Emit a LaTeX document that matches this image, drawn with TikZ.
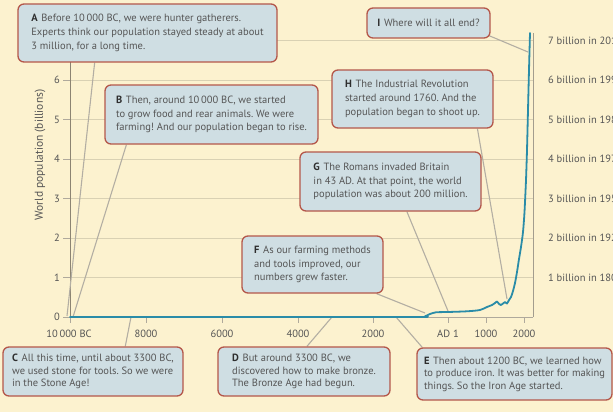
\documentclass[tikz,border=0pt]{standalone}
\usepackage{fontspec}
\setmainfont{PT Sans}
\usetikzlibrary{calc}
\definecolor{bgc}{HTML}{FCF2CF}
\definecolor{boxfill}{HTML}{CFDEE3}
\definecolor{boxline}{HTML}{B4574A}
\definecolor{txt}{HTML}{555555}
\definecolor{lettc}{HTML}{2E2E2E}
\definecolor{gridc}{HTML}{D9D1B3}
\definecolor{axisc}{HTML}{8C8472}
\definecolor{connc}{HTML}{B3AEA3}
\definecolor{curvec}{HTML}{2A8CA8}
\pgfdeclarelayer{bg}
\pgfsetlayers{bg,main}
\frenchspacing
\newcommand{\lett}[1]{\textbf{\color{lettc}#1}\hspace{0.35em}}
\begin{document}
\begin{tikzpicture}[x=1pt,y=-1pt,
  note/.style={draw=boxline, line width=1.3pt, fill=boxfill, rounded corners=6pt,
    align=left, inner xsep=0pt, inner ysep=0pt, text=txt,
    font=\fontsize{10.5}{13.8}\selectfont},
  notetight/.style={note, font=\fontsize{10.5}{12.6}\selectfont},
  conn/.style={draw=connc, line width=1.1pt},
  gridline/.style={draw=gridc, line width=0.8pt},
  tickline/.style={draw=axisc!70, line width=0.7pt},
  lab/.style={text=txt, font=\fontsize{10.5}{12}\selectfont, inner sep=0pt},
  rlab/.style={text=txt, font=\fontsize{10.5}{12}\selectfont, inner sep=0pt, anchor=west}]
\useasboundingbox (0,0) rectangle (613,412);
\clip (0,0) rectangle (613,412);

% boxes
\node[note, minimum width=259pt, minimum height=58pt] (A) at (147.5,33)
 {\lett{A}Before 10\,000 BC, we were hunter gatherers.\\Experts think our population stayed steady at about\\3 million, for a long time.};
\node[note, minimum width=213pt, minimum height=59pt] (B) at (211.5,114.5)
 {\lett{B}Then, around 10\,000 BC, we started\\to grow food and rear animals. We were\\farming! And our population began to rise.};
\node[note, minimum width=123pt, minimum height=30pt] (I) at (428.5,23)
 {\lett{I}Where will it all end?};
\node[note, minimum width=161pt, minimum height=58pt] (H) at (412.5,99)
 {\lett{H}The Industrial Revolution\\started around 1760. And the\\population began to shoot up.};
\node[note, minimum width=181pt, minimum height=59pt] (G) at (390.5,181.5)
 {\lett{G}The Romans invaded Britain\\in 43 AD. At that point, the world\\population was about 200 million.};
\node[note, minimum width=141pt, minimum height=57pt] (F) at (312.5,264.5)
 {\lett{F}As our farming methods\\and tools improved, our\\numbers grew faster.};
\node[notetight, minimum width=180pt, minimum height=49pt] (C) at (93,371.5)
 {\lett{C}All this time, until about 3300 BC,\\we used stone for tools. So we were\\in the Stone Age!};
\node[notetight, minimum width=172pt, minimum height=49pt] (D) at (304,371.5)
 {\lett{D}But around 3300 BC, we\\discovered how to make bronze.\\The Bronze Age had begun.};
\node[notetight, minimum width=195pt, minimum height=52pt] (E) at (514.5,374)
 {\lett{E}Then about 1200 BC, we learned how\\to produce iron. It was better for making\\things. So the Iron Age started.};

% connector ends on the curve
\coordinate (eA) at (67,316);
\coordinate (eB) at (73,317);
\coordinate (eC) at (131,317);
\coordinate (eD) at (332,317);
\coordinate (eE) at (396,317);
\coordinate (eF) at (425,313);
\coordinate (eG) at (448,311);
\coordinate (eH) at (507,299);
\coordinate (eI) at (528,52);

\begin{pgfonlayer}{bg}
  \fill[bgc] (0,0) rectangle (613,412);
  % grid
  \foreach \n in {1,...,7} {
    \draw[gridline] (63,{317-39.5*\n}) -- (533,{317-39.5*\n});
  }
  \foreach \n in {0,...,6} {
    \draw[tickline] (63,{317-39.5*\n}) -- (70,{317-39.5*\n});
  }
  \draw[tickline] (63,317) -- (533,317);
  % axes
  \draw[draw=axisc, line width=1pt] (70,317) -- (70,40);
  \draw[draw=axisc!80, line width=0.9pt] (533,317) -- (533,33);
  \foreach \x in {70,146,222,298,373,448,486,524} {
    \draw[tickline] (\x,317) -- (\x,323);
  }
  % connectors
  \draw[conn] ($(A.south west)!0.297!(A.south east)$) -- (eA);
  \draw[conn] ($(B.south west)!0.103!(B.south east)$) -- (eB);
  \draw[conn] ($(C.north west)!0.678!(C.north east)$) -- (eC);
  \draw[conn] ($(D.north west)!0.517!(D.north east)$) -- (eD);
  \draw[conn] ($(E.north west)!0.03!(E.north east)$) -- (eE);
  \draw[conn] ($(F.south west)!0.95!(F.south east)$) -- (eF);
  \draw[conn] ($(G.south west)!0.59!(G.south east)$) -- (eG);
  \draw[conn] ($(H.south west)!0.9!(H.south east)$) -- (eH);
  \draw[conn] ($(I.south east)+(-4,-4)$) -- (eI);
  % curve
  \draw[curvec, line width=1.8pt, line join=round, line cap=round]
    plot[smooth, tension=0.45] coordinates {(70,317) (300,317) (420,317) (425,316.3) (430,314)
      (436,312.3) (448,312) (467,311.3) (480,310) (487,307) (492,305) (495,303) (497,301.5)
      (499,304) (501,305) (503,303.5) (505,302) (507,303.5) (509,300) (511,297) (513,291)
      (515,283) (517,272) (519,259) (521,247) (523,232) (524.5,212) (526,180) (527,150)
      (528,110) (529,70) (530,33)};
\end{pgfonlayer}

% y tick labels
\foreach \n in {0,...,6} {
  \node[lab, anchor=east] (yl\n) at (60,{317-39.5*\n}) {\n};
}
\node[lab, rotate=90, font=\fontsize{11.5}{13}\selectfont] (ytitle) at (40,155) {World population (billions)};

% x labels
\node[lab] (x1) at (69,334) {10\,000 BC};
\node[lab] (x2) at (146,334) {8000};
\node[lab] (x3) at (222,334) {6000};
\node[lab] (x4) at (298,334) {4000};
\node[lab] (x5) at (373,334) {2000};
\node[lab] (x6) at (448,334) {AD 1};
\node[lab] (x7) at (486,334) {1000};
\node[lab] (x8) at (524,334) {2000};

% right labels
\node[rlab] (r7) at (548,40.5) {7 billion in 2011};
\node[rlab] (r6) at (548,80) {6 billion in 1999};
\node[rlab] (r5) at (548,119.5) {5 billion in 1987};
\node[rlab] (r4) at (548,159) {4 billion in 1974};
\node[rlab] (r3) at (548,198.5) {3 billion in 1959};
\node[rlab] (r2) at (548,238) {2 billion in 1927};
\node[rlab] (r1) at (548,277.5) {1 billion in 1804};
\end{tikzpicture}
\end{document}
